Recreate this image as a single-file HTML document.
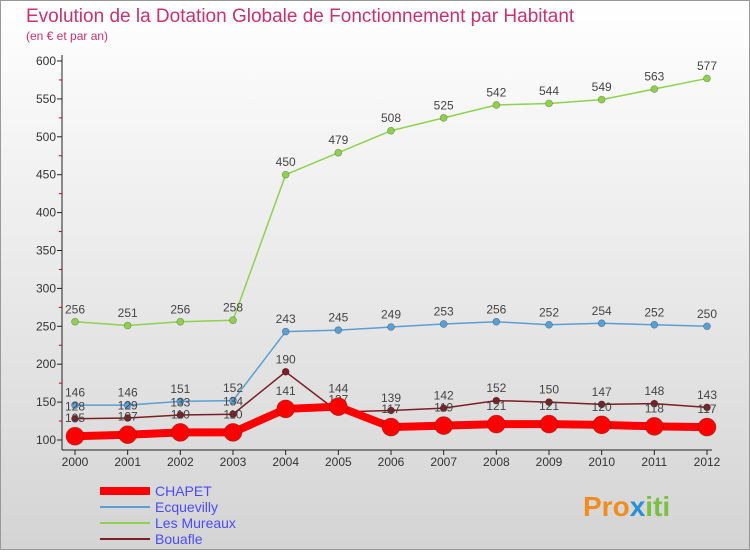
<!DOCTYPE html>
<html><head><meta charset="utf-8"><style>
body{margin:0;width:750px;height:550px;overflow:hidden;font-family:"Liberation Sans",sans-serif}
</style></head><body>
<svg width="750" height="550" viewBox="0 0 750 550">
<defs><linearGradient id="bg" x1="0" y1="0" x2="0" y2="1"><stop offset="0" stop-color="#ffffff"/><stop offset="1" stop-color="#d4d4d4"/></linearGradient></defs>
<rect x="0.5" y="0.5" width="749" height="549" fill="url(#bg)" stroke="#999"/>
<text x="26" y="22" font-size="19" fill="#c8326e">Evolution de la Dotation Globale de Fonctionnement par Habitant</text>
<text x="26" y="40" font-size="12" fill="#c8326e">(en € et par an)</text>
<g id="axes"></g>
<g id="series"></g>
<g id="legend"></g>
<text x="583" y="516" font-size="28" font-weight="bold" fill="#f28c1e">Pro<tspan fill="#2a8fd6">x</tspan><tspan fill="#7bc043">iti</tspan></text>
</svg>
<script>
const years=[2000,2001,2002,2003,2004,2005,2006,2007,2008,2009,2010,2011,2012];
const chapet=[105,107,110,110,141,144,117,119,121,121,120,118,117];
const ecquevilly=[146,146,151,152,243,245,249,253,256,252,254,252,250];
const mureaux=[256,251,256,258,450,479,508,525,542,544,549,563,577];
const bouafle=[128,129,133,134,190,137,139,142,152,150,147,148,143];
const yTicks=[100,150,200,250,300,350,400,450,500,550,600];
const NS="http://www.w3.org/2000/svg";
const x=i=>75+i*(707-75)/12;
const y=v=>440-(v-100)*(379/500);
function mk(tag,attrs,parent){const e=document.createElementNS(NS,tag);for(const k in attrs)e.setAttribute(k,attrs[k]);parent.appendChild(e);return e;}
const ax=document.getElementById('axes');
let a=mk('line',{x1:62,y1:55,x2:62,y2:450,stroke:'#222'},ax);


a=mk('line',{x1:62,y1:450,x2:712,y2:450,stroke:'#222'},ax);


yTicks.forEach((v,i)=>{
  mk('line',{x1:57,y1:y(v),x2:62,y2:y(v),stroke:'#222'},ax);
  if(i<yTicks.length-1)mk('line',{x1:59,y1:y(v+25),x2:62,y2:y(v+25),stroke:'#d00'},ax);
  const t=mk('text',{x:56,y:y(v)+4,'font-size':12,'text-anchor':'end',fill:'#333'},ax);
  t.textContent=v;
  
  
});
years.forEach((yr,i)=>{
  mk('line',{x1:x(i),y1:450,x2:x(i),y2:455,stroke:'#222'},ax);
  const t=mk('text',{x:x(i),y:466,'font-size':12,'text-anchor':'middle',fill:'#333'},ax);
  t.textContent=yr;
  
  
});
const S=document.getElementById('series');
const defs=[
 {name:'Les Mureaux',d:mureaux,c:'#8fd14f',w:1.5,r:3.5},
 {name:'Ecquevilly',d:ecquevilly,c:'#5a9fd4',w:1.5,r:3.5},
 {name:'Bouafle',d:bouafle,c:'#7a1f24',w:1.5,r:3.5},
 {name:'CHAPET',d:chapet,c:'#ff0000',w:8,r:9}
];
defs.forEach(s=>{
  const g=mk('g',{},S);
  
  
  const p=mk('polyline',{points:s.d.map((v,i)=>x(i)+','+y(v)).join(' '),fill:'none',stroke:s.c,'stroke-width':s.w},g);
  
  
  s.d.forEach((v,i)=>{
    const c=mk('circle',{cx:x(i),cy:y(v),r:s.r,fill:s.c,stroke:'rgba(0,0,0,0.3)','stroke-width':0.7},g);
    
    
    const t=mk('text',{x:x(i),y:y(v)-(s.r+5),'font-size':12,'text-anchor':'middle',fill:'#444'},g);
    t.textContent=v;
    
    
  });
});
const L=document.getElementById('legend');
[{n:'CHAPET',c:'#ff0000',w:8},{n:'Ecquevilly',c:'#5a9fd4',w:2},{n:'Les Mureaux',c:'#8fd14f',w:2},{n:'Bouafle',c:'#7a1f24',w:2}].forEach((l,i)=>{
  const g=mk('g',{},L);
  
  
  mk('line',{x1:100,y1:491+i*16,x2:150,y2:491+i*16,stroke:l.c,'stroke-width':l.w},g);
  const t=mk('text',{x:155,y:496+i*16,'font-size':14,fill:'#4a4aff'},g);
  t.textContent=l.n;
});
</script>
</body></html>
